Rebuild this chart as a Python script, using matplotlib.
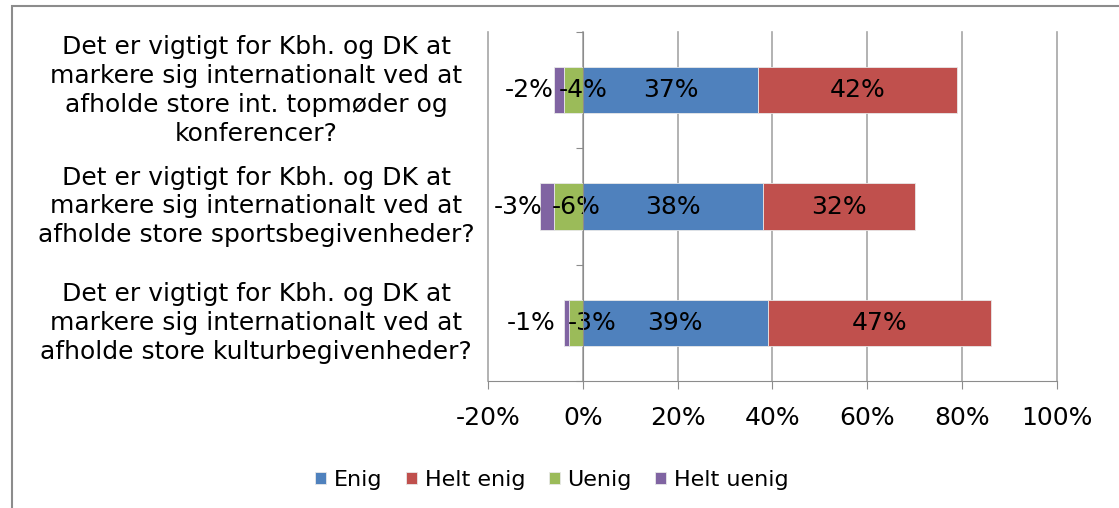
import matplotlib
matplotlib.use("Agg")
import matplotlib.pyplot as plt
from matplotlib.patches import Rectangle
from matplotlib.transforms import blended_transform_factory

questions = [
    "Det er vigtigt for Kbh. og DK at\nmarkere sig internationalt ved at\nafholde store int. topmøder og\nkonferencer?",
    "Det er vigtigt for Kbh. og DK at\nmarkere sig internationalt ved at\nafholde store sportsbegivenheder?",
    "Det er vigtigt for Kbh. og DK at\nmarkere sig internationalt ved at\nafholde store kulturbegivenheder?",
]
enig = [37, 38, 39]
helt_enig = [42, 32, 47]
uenig = [-4, -6, -3]
helt_uenig = [-2, -3, -1]
xticks = [-20, 0, 20, 40, 60, 80, 100]

colors = {"Enig": "#4F81BD", "Helt enig": "#C0504D", "Uenig": "#9BBB59", "Helt uenig": "#8064A2"}

# label x-positions of the small negative segments (nudged like in the original)
uenig_lbl_x = [0, -1.5, 2]
helt_uenig_lbl_x = [-11.4, -13.7, -11.0]

plt.rcParams['font.family'] = ['DejaVu Sans']

fig = plt.figure(figsize=(11.19, 5.08), dpi=100)
ax = fig.add_axes([488 / 1119, 1 - 381 / 508, (1057 - 488) / 1119, (381 - 32) / 508])

# outer chart frame (cut off at right and bottom like the screenshot)
fig.patches.append(Rectangle((12 / 1119, -0.1), 1.2, 1 - 6 / 508 + 0.1, transform=fig.transFigure,
                             fill=False, edgecolor="#8c8c8c", linewidth=1.5))

ypos = [0, 1, 2]
h = 0.4
kw = dict(height=h, edgecolor="#e8e8e8", linewidth=0.6, zorder=3)
ax.barh(ypos, enig, color=colors["Enig"], label="Enig", **kw)
ax.barh(ypos, helt_enig, left=enig, color=colors["Helt enig"], label="Helt enig", **kw)
ax.barh(ypos, uenig, color=colors["Uenig"], label="Uenig", **kw)
ax.barh(ypos, helt_uenig, left=uenig, color=colors["Helt uenig"], label="Helt uenig", **kw)

fs = 18
for i in range(3):
    ax.text(enig[i] / 2, ypos[i], f"{enig[i]}%", ha="center", va="center", fontsize=fs, zorder=4)
    ax.text(enig[i] + helt_enig[i] / 2, ypos[i], f"{helt_enig[i]}%", ha="center", va="center", fontsize=fs, zorder=4)
    ax.text(uenig_lbl_x[i], ypos[i], f"{uenig[i]}%", ha="center", va="center", fontsize=fs, zorder=4)
    ax.text(helt_uenig_lbl_x[i], ypos[i], f"{helt_uenig[i]}%", ha="center", va="center", fontsize=fs, zorder=4)

ax.set_xlim(-20, 100)
ax.set_ylim(2.5, -0.5)
ax.set_xticks(xticks)
ax.set_xticklabels([f"{t}%" for t in xticks], fontsize=18)
ax.tick_params(axis="x", length=6, color="#8c8c8c", pad=12)
ax.grid(axis="x", color="#a6a6a6", linewidth=1.2, zorder=0)
for gl in ax.get_xgridlines():
    gl.set_clip_on(False)

ax.spines["top"].set_visible(False)
ax.spines["right"].set_visible(False)
ax.spines["bottom"].set_color("#8c8c8c")
ax.spines["left"].set_position(("data", 0))
ax.spines["left"].set_color("#8c8c8c")
ax.spines["left"].set_zorder(5)
ax.set_yticks([-0.5, 0.5, 1.5, 2.5])
ax.set_yticklabels([])
ax.tick_params(axis="y", length=5, color="#8c8c8c")

trans = blended_transform_factory(fig.transFigure, ax.transData)
for i, q in enumerate(questions):
    fig.text(256 / 1119, ypos[i], q, ha="center", va="center", fontsize=18,
             linespacing=1.26, transform=trans)

ax.legend(loc="center", bbox_to_anchor=(552 / 1119, 1 - 480 / 508), bbox_transform=fig.transFigure,
          ncol=4, frameon=False, fontsize=16, handlelength=0.5, handleheight=0.5,
          handletextpad=0.35, columnspacing=1.05)

fig.savefig("out.png", dpi=100)
